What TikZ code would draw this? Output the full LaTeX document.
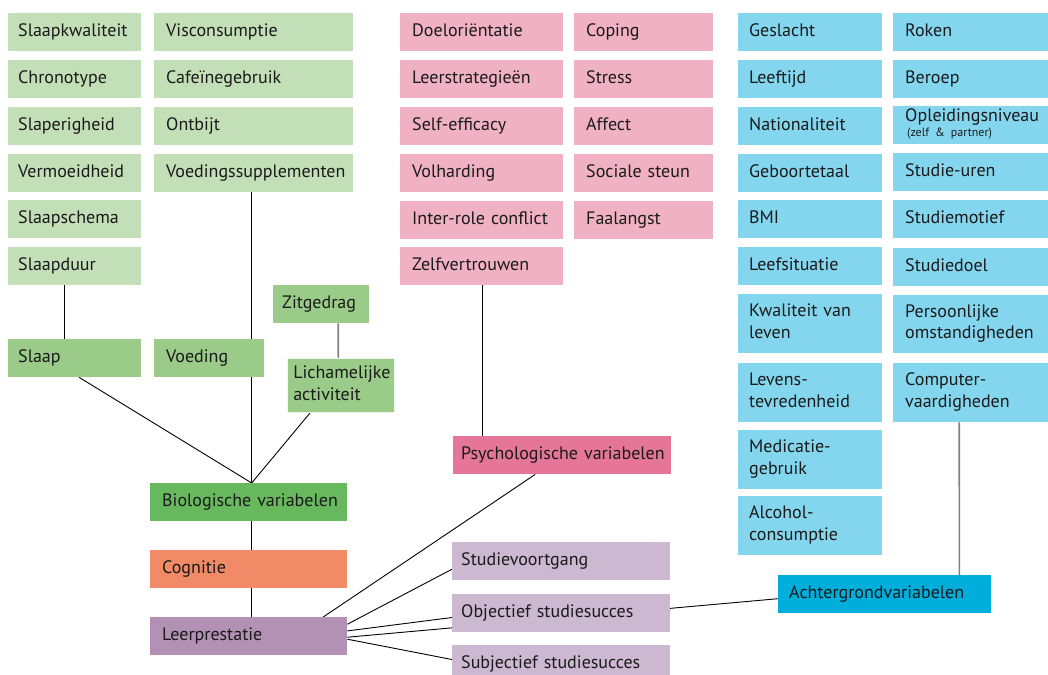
\documentclass[tikz,border=0pt]{standalone}
\usepackage{fontspec}
\setmainfont{PT Sans}
\usetikzlibrary{backgrounds}
\definecolor{glight}{HTML}{C3DFB8}
\definecolor{gmid}{HTML}{9BCB88}
\definecolor{gdark}{HTML}{68B85E}
\definecolor{ocog}{HTML}{F08A67}
\definecolor{pleer}{HTML}{B291B4}
\definecolor{plight}{HTML}{CDB8D1}
\definecolor{rlight}{HTML}{F1B1C5}
\definecolor{rdark}{HTML}{E67699}
\definecolor{blight}{HTML}{84D6EF}
\definecolor{bdark}{HTML}{00AEDB}
\definecolor{txt}{HTML}{1A1A1A}
\newcommand\BXstrut{\rule[-5pt]{0pt}{17pt}}
\tikzset{
  bx/.style={anchor=north west, inner ysep=0pt, align=left, text=txt,
    font=\fontsize{18}{21.7}\selectfont,
    execute at begin node=\BXstrut, execute at end node=\BXstrut},
  conn/.style={draw=black, line width=0.9pt},
  gconn/.style={draw=black!50, line width=1.6pt},
}
\newcommand\Bx[8][11]{%
  \pgfmathsetmacro\BXw{#6-#4-2*#1}%
  \pgfmathsetmacro\BXh{#7-#5}%
  \node[bx,#3,inner xsep=#1pt,text width=\BXw pt,minimum height=\BXh pt] (#2) at (#4,#5) {#8};%
}
\begin{document}
\begin{tikzpicture}[x=1pt,y=-1pt]
\useasboundingbox (0,0) rectangle (1048,674);
% green column 1
\Bx[10]{slaapkw}{fill=glight}{8}{13}{141}{51}{Slaapkwaliteit}
\Bx[10]{chrono}{fill=glight}{8}{60}{141}{98}{Chronotype}
\Bx[10]{slaperig}{fill=glight}{8}{107}{141}{145}{Slaperigheid}
\Bx[10]{vermoeid}{fill=glight}{8}{154}{141}{192}{Vermoeidheid}
\Bx[10]{slaapsch}{fill=glight}{8}{200}{141}{238}{Slaapschema}
\Bx[10]{slaapduur}{fill=glight}{8}{247}{141}{285}{Slaapduur}
% green column 2
\Bx[12]{visc}{fill=glight}{154}{13}{353}{51}{Visconsumptie}
\Bx[12]{cafe}{fill=glight}{154}{60}{353}{98}{Cafeïnegebruik}
\Bx[12]{ontbijt}{fill=glight}{154}{107}{353}{145}{Ontbijt}
\Bx[12]{voedsup}{fill=glight}{154}{154}{353}{192}{\mbox{Voedingssupplementen}}
% green mid
\Bx[10]{slaap}{fill=gmid}{8}{339}{141}{377}{Slaap}
\Bx[12]{voeding}{fill=gmid}{154}{339}{264}{377}{Voeding}
\Bx[9]{zit}{fill=gmid}{273}{285}{369}{323}{Zitgedrag}
\Bx[6]{lich}{fill=gmid,draw=white!85!gmid,line width=0.6pt}{287}{358}{394}{412}{Lichamelijke\\activiteit}
% central column
\Bx[12]{bio}{fill=gdark}{150}{483}{347}{521}{\mbox{Biologische variabelen}}
\Bx[12]{cog}{fill=ocog}{150}{550}{347}{588}{Cognitie}
\Bx[12]{leer}{fill=pleer}{150}{617}{347}{655}{Leerprestatie}
% pink column 1
\Bx[12]{doel}{fill=rlight}{400}{13}{563}{51}{Doeloriëntatie}
\Bx[12]{leerstr}{fill=rlight}{400}{60}{563}{98}{Leerstrategieën}
\Bx[12]{selfeff}{fill=rlight}{400}{107}{563}{145}{Self-efficacy}
\Bx[12]{volh}{fill=rlight}{400}{154}{563}{192}{Volharding}
\Bx[12]{inter}{fill=rlight}{400}{201}{563}{239}{\mbox{Inter-role conflict}}
\Bx[12]{zelf}{fill=rlight}{400}{247}{563}{285}{Zelfvertrouwen}
% pink column 2
\Bx[12]{coping}{fill=rlight}{574}{13}{713}{51}{Coping}
\Bx[12]{stress}{fill=rlight}{574}{60}{713}{98}{Stress}
\Bx[12]{affect}{fill=rlight}{574}{107}{713}{145}{Affect}
\Bx[12]{sociale}{fill=rlight}{574}{154}{713}{192}{\mbox{Sociale steun}}
\Bx[12]{faal}{fill=rlight}{574}{201}{713}{239}{Faalangst}
% psych
\Bx[8]{psych}{fill=rdark}{453}{436}{671}{474}{\mbox{Psychologische variabelen}}
% study outcomes
\Bx[9]{sv}{fill=plight}{452}{542}{670}{580}{Studievoortgang}
\Bx[9]{obj}{fill=plight}{452}{594}{670}{632}{\mbox{Objectief studiesucces}}
\Bx[9]{subj}{fill=plight}{452}{645}{670}{683}{\mbox{Subjectief studiesucces}}
% blue column 1
\Bx[11]{geslacht}{fill=blight}{738}{13}{882}{51}{Geslacht}
\Bx[11]{leeftijd}{fill=blight}{738}{60}{882}{98}{Leeftijd}
\Bx[11]{nation}{fill=blight}{738}{107}{882}{145}{Nationaliteit}
\Bx[11]{geboorte}{fill=blight}{738}{154}{882}{192}{Geboortetaal}
\Bx[11]{bmi}{fill=blight}{738}{200}{882}{238}{BMI}
\Bx[11]{leefsit}{fill=blight}{738}{247}{882}{285}{Leefsituatie}
\Bx[11]{kwal}{fill=blight}{738}{294}{882}{353}{Kwaliteit van\\leven}
\Bx[11]{levens}{fill=blight}{738}{363}{882}{422}{Levens-\\tevredenheid}
\Bx[11]{medic}{fill=blight}{738}{430}{882}{489}{Medicatie-\\gebruik}
\Bx[11]{alcohol}{fill=blight}{738}{496}{882}{555}{Alcohol-\\consumptie}
% blue column 2
\Bx[12]{roken}{fill=blight}{893}{13}{1048}{51}{Roken}
\Bx[12]{beroep}{fill=blight}{893}{60}{1048}{98}{Beroep}
\Bx[12]{opleid}{fill=blight}{893}{106}{1048}{144}{Opleidingsniveau\\[-6pt]{\fontsize{12}{13}\selectfont\hspace*{2pt}(zelf \& partner)}}
\Bx[12]{studieu}{fill=blight}{893}{153}{1048}{191}{Studie-uren}
\Bx[12]{studiem}{fill=blight}{893}{200}{1048}{238}{Studiemotief}
\Bx[12]{studied}{fill=blight}{893}{248}{1048}{286}{Studiedoel}
\Bx[12]{pers}{fill=blight}{893}{295}{1048}{353}{Persoonlijke\\omstandigheden}
\Bx[12]{comp}{fill=blight}{893}{363}{1048}{422}{Computer-\\vaardigheden}
% achtergrond
\Bx[11]{achter}{fill=bdark}{778}{575}{991}{613}{\mbox{Achtergrondvariabelen}}
% connectors
\begin{scope}[on background layer]
\draw[conn] ([xshift=-10pt]slaapduur.south) -- ([xshift=-10pt]slaap.north);
\draw[conn] ([xshift=-2pt]voedsup.south) -- ([xshift=3pt]bio.north);
\draw[conn] ([xshift=4.5pt]slaap.south) -- ([xshift=3pt]bio.north);
\draw[conn] ([xshift=-30.5pt]lich.south) -- ([xshift=3pt]bio.north);
\draw[gconn] ([xshift=17pt]zit.south) -- ([xshift=-2.5pt]lich.north);
\draw[conn] ([xshift=3pt]bio.south) -- ([xshift=3pt]cog.north);
\draw[conn] ([xshift=3pt]cog.south) -- ([xshift=3pt]leer.north);
\draw[conn] ([xshift=1.2pt]zelf.south) -- ([xshift=-79.3pt]psych.north);
\draw[conn] ([xshift=-27pt]psych.south) -- ([xshift=74.5pt]leer.north);
\draw[conn] ([yshift=12pt]leer.east) -- ([yshift=-8pt]sv.west);
\draw[conn] ([yshift=5.3pt]leer.east) -- ([yshift=-4.3pt]obj.west);
\draw[conn] ([yshift=-1pt]leer.east) -- ([yshift=-4.5pt]achter.west);
\draw[conn] ([yshift=-3pt]leer.east) -- ([yshift=4.7pt]subj.west);
\draw[gconn] ([xshift=-11.5pt]comp.south) -- ([xshift=74.7pt]achter.north);
\end{scope}
\end{tikzpicture}
\end{document}
